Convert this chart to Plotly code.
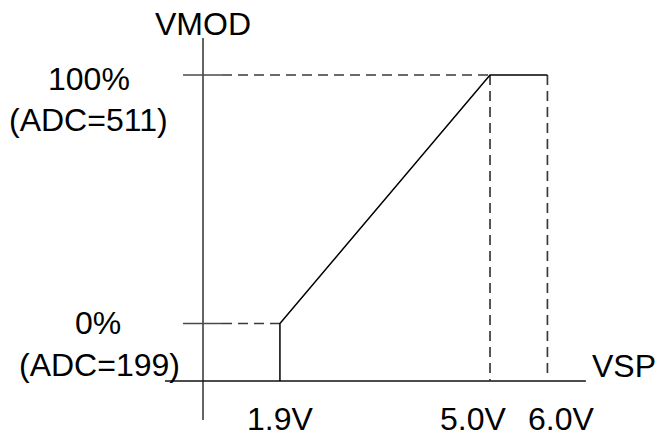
import plotly.graph_objects as go

# ---- data (schematic diagram) ----
x_labels = ["1.9V", "5.0V", "6.0V"]
x_pos = [1.34, 5.0, 6.0]          # schematic positions on VSP axis
y_levels = [0, 100]               # VMOD percent levels
y_pct_labels = ["0%", "100%"]
y_adc_labels = ["(ADC=199)", "(ADC=511)"]
axis_x_extent = [-0.662, 6.67]
axis_y_extent = [-38.8, 114.9]
x_axis_level = -23.14

FONT = "Liberation Sans, Arial, sans-serif"
FS = 32
DASH = "10px,6px"
AX_GRAY = "#4a4a4a"
DASH_GRAY = "#3a3a3a"

fig = go.Figure()

def seg(xs, ys, color="#000", width=1.7, dash="solid"):
    fig.add_trace(go.Scatter(x=xs, y=ys, mode="lines", hoverinfo="skip",
                             line=dict(color=color, width=width, dash=dash),
                             showlegend=False))

# axes
seg([0, 0], axis_y_extent, color=AX_GRAY, width=1.7)
seg(axis_x_extent, [x_axis_level, x_axis_level], color="#111", width=1.7)

# ticks on y axis
for lv in y_levels:
    seg([-0.348, 0.331], [lv, lv], color=AX_GRAY, width=1.7)

# dashed guides
seg([0.331, x_pos[0]], [y_levels[0], y_levels[0]], color=DASH_GRAY, width=1.7, dash=DASH)
seg([0.331, x_pos[1]], [y_levels[1], y_levels[1]], color=DASH_GRAY, width=1.7, dash=DASH)
seg([x_pos[1], x_pos[1]], [y_levels[1], x_axis_level], color=DASH_GRAY, width=1.7, dash=DASH)
seg([x_pos[2], x_pos[2]], [y_levels[1], x_axis_level + 2.4], color=DASH_GRAY, width=1.7, dash=DASH)

# characteristic curve
seg([x_pos[0], x_pos[0], x_pos[1], x_pos[2]],
    [x_axis_level, y_levels[0], y_levels[1], y_levels[1]], color="#000", width=1.5)

ann = []
def txt(x, y, t, xs=0, ys=0):
    ann.append(dict(x=x, y=y, text=t, showarrow=False, xshift=xs, yshift=ys,
                    xanchor="center", yanchor="middle",
                    font=dict(family=FONT, size=FS, color="#000")))

# y labels
txt(0, y_levels[1], y_pct_labels[1], -114, -4)
txt(0, y_levels[1], y_adc_labels[1], -115, -45)
txt(0, y_levels[0], y_pct_labels[0], -105, 1)
txt(0, y_levels[0], y_adc_labels[0], -104, -41)
# x labels
xl_shift = [0, -17, 14]
for xp, lab, s in zip(x_pos, x_labels, xl_shift):
    txt(xp, x_axis_level, lab, s, -38)
# axis titles
txt(0, axis_y_extent[1], "VMOD", 0, 14)
txt(axis_x_extent[1], x_axis_level, "VSP", 38, 15)

fig.update_layout(
    width=657, height=436,
    margin=dict(l=0, r=0, t=0, b=0),
    paper_bgcolor="white", plot_bgcolor="white",
    xaxis=dict(range=[-3.5366, 7.909], visible=False, fixedrange=True),
    yaxis=dict(range=[-45.27, 130.18], visible=False, fixedrange=True),
    annotations=ann,
    showlegend=False,
)
fig.write_html(
    "out.html",
    config={"displayModeBar": False},
    post_script="document.body.style.margin='0';document.body.style.overflow='hidden';",
)
